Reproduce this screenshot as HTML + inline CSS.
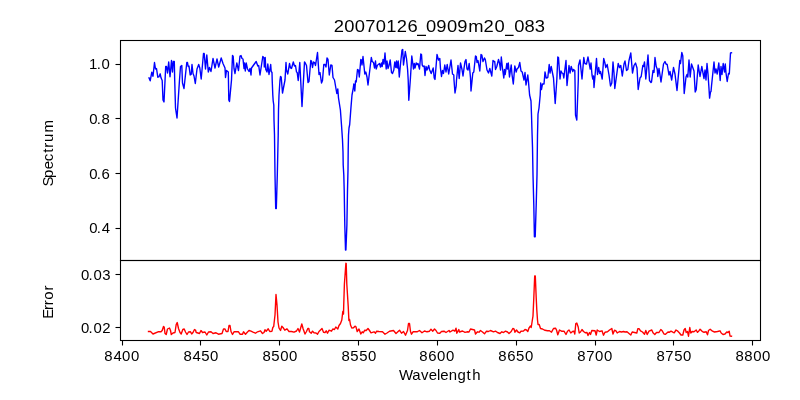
<!DOCTYPE html>
<html><head><meta charset="utf-8"><title>20070126_0909m20_083</title>
<style>html,body{margin:0;padding:0;background:#fff;}body{width:800px;height:400px;overflow:hidden;}svg{display:block;will-change:transform;}text{font-family:"Liberation Sans",sans-serif;fill:#000;}</style></head><body>
<svg width="800" height="400" viewBox="0 0 800 400">
<rect x="0" y="0" width="800" height="400" fill="#ffffff"/>
<path d="M149.0 77.8 L150.2 80.8 L151.8 72.2 L153.0 76.2 L154.5 62.5 L155.5 69.0 L156.5 68.5 L157.8 77.2 L159.0 76.8 L160.2 73.8 L161.0 77.8 L162.2 80.5 L163.0 100.0 L164.0 102.0 L165.7 66.5 L166.5 66.5 L167.5 73.0 L168.7 62.0 L170.0 76.8 L171.5 60.5 L172.5 72.0 L173.3 61.5 L174.3 61.5 L174.7 80.0 L175.5 108.0 L177.0 118.0 L179.5 80.0 L180.5 66.5 L181.8 65.5 L182.5 83.0 L184.0 88.5 L186.8 62.5 L187.5 62.5 L188.2 66.5 L189.0 66.0 L190.2 75.0 L191.2 74.5 L192.0 64.5 L193.0 73.5 L194.0 76.0 L195.3 83.5 L197.0 69.0 L198.7 64.5 L199.8 68.0 L201.2 79.0 L203.5 53.5 L204.2 53.5 L205.5 69.0 L206.8 55.0 L208.3 72.0 L209.5 67.5 L211.0 71.5 L213.0 58.5 L215.0 68.0 L217.0 59.0 L218.7 67.0 L221.2 58.0 L223.0 63.5 L225.0 68.0 L225.5 77.5 L226.5 70.5 L228.3 72.0 L228.8 100.0 L229.5 101.5 L231.5 80.0 L232.5 55.5 L233.2 56.5 L234.0 68.5 L235.0 73.5 L236.8 63.0 L238.5 70.5 L240.0 56.0 L241.0 55.5 L242.0 58.5 L243.0 59.0 L244.0 68.5 L244.5 63.0 L245.3 71.0 L246.2 63.0 L247.5 69.0 L249.0 71.5 L250.0 68.5 L251.0 75.0 L251.5 68.0 L254.0 64.5 L256.2 61.5 L257.8 66.0 L258.7 65.5 L260.0 75.0 L262.8 56.5 L264.0 58.0 L264.3 67.0 L265.2 57.5 L265.8 69.5 L267.0 72.0 L267.8 64.0 L269.0 74.5 L270.7 64.5 L271.2 71.5 L272.0 72.5 L272.2 80.0 L272.8 95.0 L273.2 101.0 L273.8 105.0 L274.0 120.0 L274.5 135.0 L275.0 175.0 L275.7 208.5 L276.3 208.5 L277.3 175.0 L278.2 135.0 L278.5 110.0 L279.0 95.0 L280.0 80.0 L280.5 76.5 L281.2 77.0 L282.5 93.0 L285.0 80.0 L286.0 62.5 L286.5 70.0 L287.8 74.0 L289.5 63.5 L290.5 68.0 L291.5 68.5 L293.3 62.0 L294.5 66.0 L295.5 65.5 L296.5 72.0 L297.2 72.5 L298.2 80.5 L299.8 62.5 L302.0 106.5 L304.5 62.0 L305.0 62.5 L306.5 65.5 L308.0 82.5 L309.0 81.5 L310.8 60.5 L311.5 61.0 L312.5 67.5 L313.5 62.0 L314.5 62.5 L315.5 65.5 L317.5 52.5 L319.0 74.5 L320.0 72.5 L321.5 83.0 L322.5 80.5 L323.8 64.5 L325.0 64.5 L326.0 67.0 L327.0 58.0 L328.0 59.5 L329.3 75.0 L330.8 65.0 L332.0 65.5 L333.0 77.5 L334.5 80.0 L336.8 93.5 L337.8 89.0 L338.5 98.0 L340.4 110.0 L341.5 125.0 L342.5 140.0 L343.0 152.0 L343.2 165.0 L343.8 175.0 L344.2 190.0 L344.8 225.0 L345.5 250.0 L345.9 250.0 L346.9 225.0 L347.5 190.0 L348.0 170.0 L348.2 150.0 L348.5 135.0 L349.0 128.0 L349.7 124.5 L351.0 107.0 L352.0 95.0 L353.5 87.0 L353.8 84.0 L354.8 91.0 L355.5 81.0 L356.2 82.0 L357.5 69.5 L358.5 70.0 L359.3 77.0 L360.8 59.5 L361.5 60.0 L362.0 65.0 L363.0 56.5 L364.8 74.0 L365.8 72.0 L367.0 77.0 L368.0 85.0 L371.3 57.5 L372.2 61.5 L373.5 62.5 L374.5 68.0 L375.5 61.0 L376.2 69.0 L377.5 65.0 L378.5 64.5 L379.5 63.5 L380.5 67.0 L381.5 63.0 L382.2 66.5 L383.0 59.5 L384.0 64.0 L385.0 53.0 L386.2 69.0 L387.0 61.0 L388.0 68.5 L389.0 65.5 L390.2 60.0 L391.5 72.5 L392.5 73.5 L393.8 70.0 L394.8 62.0 L395.8 67.5 L396.5 61.0 L397.3 68.0 L398.2 61.0 L399.3 77.0 L400.5 64.0 L402.0 50.0 L402.7 49.5 L403.5 65.0 L405.3 51.5 L406.5 58.5 L407.6 69.5 L408.2 80.0 L408.8 100.3 L410.3 80.0 L411.8 56.0 L413.5 69.0 L414.3 63.5 L415.0 68.0 L416.2 63.0 L417.2 64.5 L418.0 63.5 L419.5 69.0 L420.8 54.0 L421.5 54.5 L422.2 65.0 L423.2 66.5 L424.2 66.0 L425.0 75.5 L426.0 66.5 L427.0 70.0 L428.7 65.5 L429.5 69.5 L431.2 73.5 L433.2 68.0 L434.2 78.0 L435.0 79.5 L437.0 54.5 L438.5 60.0 L439.8 58.5 L440.5 68.5 L441.5 76.5 L442.5 70.5 L443.5 73.5 L444.8 65.0 L446.0 72.0 L447.2 64.5 L448.7 74.0 L451.0 60.0 L452.5 74.0 L453.8 75.0 L454.0 80.0 L455.0 93.0 L456.2 86.0 L456.5 80.0 L458.0 65.5 L459.2 78.5 L460.5 63.0 L462.0 69.5 L463.0 76.0 L464.0 68.5 L465.0 61.5 L466.0 59.5 L467.0 69.0 L468.0 70.0 L469.2 63.5 L470.5 78.0 L471.0 91.0 L472.8 73.0 L473.8 72.0 L475.5 56.0 L476.3 56.5 L477.0 62.5 L478.0 60.5 L479.8 71.0 L481.0 54.5 L481.8 55.0 L483.0 61.5 L484.5 58.0 L485.3 59.5 L487.0 70.0 L488.5 73.0 L489.8 68.5 L491.8 76.0 L493.0 60.5 L494.0 61.5 L494.7 61.5 L495.5 69.5 L496.8 66.5 L498.5 59.5 L499.5 63.0 L500.5 70.0 L501.3 57.0 L502.5 68.5 L503.8 78.0 L504.5 69.5 L505.2 74.5 L506.8 63.5 L507.5 69.0 L508.3 63.0 L509.5 77.0 L511.2 65.0 L512.0 74.5 L513.3 84.0 L514.8 66.0 L516.2 72.0 L517.0 69.0 L518.5 67.5 L519.8 62.5 L521.0 71.0 L522.2 72.0 L524.0 80.0 L525.0 72.5 L526.0 85.0 L527.8 75.0 L528.5 82.0 L529.6 95.0 L531.0 101.0 L531.5 115.0 L532.1 135.0 L532.5 147.0 L533.0 175.0 L533.8 205.0 L534.4 236.8 L535.2 236.8 L536.2 205.0 L537.0 175.0 L537.5 135.0 L538.0 114.0 L539.0 108.0 L540.2 95.0 L540.7 83.0 L541.5 89.5 L542.5 84.0 L544.0 84.0 L545.0 72.0 L546.2 78.0 L547.8 77.5 L549.2 64.5 L550.0 73.0 L551.2 66.5 L553.5 78.0 L555.2 103.5 L556.8 80.0 L557.8 57.0 L558.5 57.5 L560.0 79.0 L561.0 71.0 L562.0 73.0 L563.0 73.5 L563.8 78.0 L566.0 60.5 L567.0 85.5 L569.0 65.5 L570.0 73.0 L571.2 66.5 L572.8 71.5 L573.5 69.5 L574.8 70.5 L575.0 80.0 L575.5 115.0 L576.8 120.0 L578.3 80.0 L578.5 65.5 L580.0 60.0 L582.0 79.0 L583.8 57.5 L584.8 63.5 L586.5 64.0 L588.0 57.0 L589.0 62.5 L590.2 69.0 L591.0 63.0 L592.0 75.0 L592.8 79.0 L593.5 76.0 L594.0 87.5 L596.5 58.5 L597.5 74.5 L598.7 67.5 L599.7 73.5 L600.5 71.5 L602.2 79.0 L603.7 58.5 L604.8 62.5 L605.8 67.5 L607.2 64.5 L609.0 75.0 L610.5 86.0 L611.8 83.0 L613.0 62.0 L614.0 73.0 L614.8 88.5 L618.2 63.5 L619.5 67.5 L620.8 65.5 L622.3 76.0 L624.0 64.0 L625.0 61.0 L626.5 70.5 L627.8 69.5 L629.0 60.5 L630.8 53.0 L632.5 73.0 L634.0 65.5 L635.5 63.0 L637.0 68.0 L638.2 89.5 L640.0 78.0 L641.2 76.5 L642.8 65.5 L643.5 66.5 L644.5 62.0 L645.8 79.0 L648.0 55.0 L649.5 80.5 L651.0 82.5 L651.5 82.0 L653.0 70.5 L654.0 72.5 L655.0 57.5 L656.2 66.5 L657.2 69.0 L657.8 76.5 L659.0 68.5 L660.0 75.0 L661.0 82.0 L663.5 64.0 L665.0 61.5 L666.0 64.0 L667.2 64.5 L669.0 75.0 L670.0 71.5 L671.7 80.0 L673.5 67.5 L675.0 74.0 L677.0 90.5 L679.8 60.5 L680.5 63.5 L681.8 52.5 L682.8 56.0 L684.2 93.5 L686.0 77.0 L687.0 74.5 L687.8 77.0 L689.0 60.0 L690.2 77.0 L691.5 64.0 L694.0 71.0 L695.2 92.0 L696.2 89.8 L698.2 65.0 L700.0 76.5 L701.8 66.5 L704.0 78.5 L705.0 70.0 L706.0 80.0 L707.0 63.5 L708.0 74.0 L709.0 88.8 L709.6 98.1 L710.5 92.0 L711.0 91.5 L711.5 86.0 L714.0 62.0 L715.0 73.0 L716.0 69.0 L717.2 74.0 L718.8 63.0 L720.2 80.5 L721.0 66.5 L722.0 74.5 L723.2 63.5 L724.5 72.0 L725.3 64.0 L726.0 73.0 L727.2 81.5 L728.5 73.5 L729.3 74.0 L730.5 53.0 L731.5 52.8" fill="none" stroke="#0000ff" stroke-width="1.39" stroke-linejoin="round" stroke-linecap="square"/>
<path d="M148.5 331.5 L150.5 331.5 L153.0 334.0 L158.0 331.8 L161.0 331.8 L162.2 330.5 L163.5 326.5 L164.2 327.0 L165.0 333.5 L166.2 334.5 L167.5 329.0 L169.5 328.0 L170.5 330.5 L171.3 334.5 L173.0 333.0 L175.0 332.5 L176.2 324.5 L177.2 322.5 L178.5 328.5 L180.0 332.5 L181.2 334.0 L182.8 329.5 L184.2 329.0 L185.5 332.0 L187.0 334.5 L188.5 332.0 L190.5 331.8 L191.7 334.0 L193.0 332.5 L194.5 329.5 L195.5 330.0 L196.2 332.5 L198.0 333.0 L199.5 333.5 L201.0 330.5 L202.5 332.5 L205.0 332.0 L206.8 335.0 L208.5 332.0 L211.0 331.8 L213.0 333.5 L216.0 332.8 L218.5 334.2 L222.0 333.5 L223.5 329.0 L225.0 329.0 L226.2 331.5 L228.0 331.5 L229.0 325.5 L230.0 325.5 L231.0 331.5 L232.5 334.5 L234.0 331.8 L238.5 331.8 L240.0 334.2 L242.5 334.2 L243.5 331.8 L245.5 334.2 L247.5 332.0 L249.0 330.5 L251.0 331.2 L253.0 332.2 L255.5 333.2 L257.5 331.8 L260.5 330.8 L262.5 333.5 L264.0 332.5 L265.0 329.8 L266.2 331.2 L268.2 328.8 L269.8 331.5 L272.0 331.2 L272.8 327.5 L273.7 326.5 L275.0 315.0 L276.0 294.5 L277.0 305.0 L278.0 322.0 L279.0 328.0 L280.5 330.5 L281.8 326.2 L283.0 327.5 L284.8 330.2 L287.0 328.8 L289.0 331.5 L291.5 331.5 L294.0 332.2 L296.5 331.0 L298.0 328.5 L299.5 332.0 L301.8 324.0 L303.2 329.0 L305.0 334.0 L306.5 331.5 L307.8 328.5 L308.8 328.5 L309.5 331.8 L311.2 333.2 L312.5 331.2 L314.0 332.8 L316.0 333.0 L317.5 334.2 L319.0 331.5 L320.5 330.0 L322.0 328.5 L323.5 332.2 L325.0 332.5 L326.2 330.8 L327.5 333.2 L329.0 330.2 L331.5 331.2 L332.8 329.0 L334.5 329.5 L335.8 327.0 L337.8 329.0 L339.0 325.5 L340.5 323.5 L341.8 320.0 L342.8 311.5 L343.5 314.0 L343.7 306.0 L344.4 284.0 L345.9 263.3 L346.2 263.4 L346.8 284.0 L348.2 306.0 L348.9 320.5 L349.6 319.5 L350.5 325.0 L351.8 328.0 L353.5 327.8 L355.0 326.2 L356.0 326.8 L357.2 331.5 L359.0 329.0 L360.8 334.0 L362.2 331.8 L363.2 332.8 L364.8 330.2 L366.2 330.5 L368.0 328.5 L369.5 330.5 L371.0 332.8 L374.0 331.8 L375.5 333.2 L376.5 331.2 L379.0 331.5 L382.5 331.8 L385.0 334.2 L387.0 333.0 L389.5 331.2 L393.5 330.5 L396.0 333.5 L399.5 330.2 L401.5 333.2 L403.5 331.5 L405.5 335.2 L407.5 330.5 L408.5 323.5 L409.5 323.5 L410.5 331.5 L411.5 334.2 L413.0 331.8 L417.0 331.8 L419.5 330.5 L422.0 332.8 L424.5 331.0 L427.0 331.8 L429.5 331.2 L431.0 329.2 L432.8 331.2 L434.5 329.0 L436.0 330.5 L437.5 333.0 L439.8 333.2 L441.5 331.5 L444.0 331.2 L446.0 332.5 L449.0 330.5 L450.0 332.0 L453.0 330.2 L454.8 331.2 L456.0 328.2 L456.8 333.2 L458.8 329.5 L459.5 332.0 L462.5 331.0 L465.0 332.3 L467.0 331.8 L469.0 332.0 L470.5 329.0 L472.5 329.5 L474.5 330.0 L475.5 334.0 L477.5 331.8 L479.0 332.2 L480.5 330.5 L482.5 332.0 L484.5 333.8 L486.5 331.2 L488.5 331.5 L490.5 330.5 L493.5 331.8 L495.5 331.2 L497.5 332.5 L500.0 333.5 L501.8 331.8 L503.5 332.5 L505.5 331.2 L507.5 332.0 L509.0 333.5 L511.2 331.5 L512.8 328.5 L514.0 329.0 L515.0 332.2 L516.5 330.0 L518.0 332.0 L519.8 332.8 L521.0 331.2 L523.5 331.0 L525.0 329.5 L526.5 330.0 L527.8 331.5 L529.0 328.0 L530.5 326.0 L531.2 327.5 L532.2 321.0 L533.0 316.0 L533.8 298.0 L534.7 276.0 L535.3 276.0 L536.2 297.5 L536.8 310.0 L537.5 320.0 L538.0 324.5 L539.2 324.5 L540.5 328.5 L542.5 329.0 L545.0 330.3 L547.5 330.8 L549.5 330.8 L551.5 332.2 L553.5 328.5 L555.5 328.2 L556.5 330.0 L557.8 334.8 L559.5 330.0 L561.5 331.2 L564.0 331.2 L566.0 334.5 L567.5 331.2 L569.0 330.0 L570.8 333.0 L572.5 331.5 L574.0 331.2 L574.8 334.0 L575.8 323.5 L576.8 323.0 L578.2 327.0 L579.2 333.0 L580.5 332.0 L582.0 329.5 L583.5 331.5 L585.5 332.8 L587.0 332.5 L588.0 335.5 L589.5 332.5 L590.5 334.5 L591.8 330.5 L595.0 330.8 L596.2 335.0 L597.2 330.0 L599.5 331.5 L602.0 330.8 L603.5 335.2 L605.0 332.2 L607.5 331.8 L609.5 330.0 L611.8 328.5 L613.0 334.0 L614.5 330.2 L616.2 331.2 L617.2 333.0 L619.5 331.5 L621.5 332.0 L623.5 331.5 L625.0 332.0 L627.0 331.8 L629.0 333.5 L630.8 335.0 L632.2 332.0 L634.5 332.5 L636.8 333.0 L637.8 328.8 L639.2 328.8 L640.5 330.8 L642.5 332.0 L644.5 334.2 L645.8 330.5 L647.2 334.5 L649.0 331.2 L651.8 330.0 L653.0 332.8 L654.8 334.5 L656.5 332.5 L659.0 332.5 L660.8 329.5 L662.2 330.8 L664.0 334.0 L665.5 334.2 L668.0 332.0 L669.5 332.2 L671.0 331.2 L672.8 332.2 L674.2 332.8 L676.0 330.0 L677.8 331.2 L679.5 333.0 L681.0 335.0 L682.8 335.0 L684.0 330.0 L685.2 328.5 L686.2 332.5 L687.5 331.5 L688.5 336.2 L689.8 327.5 L690.8 333.0 L692.2 331.5 L694.0 331.8 L696.2 330.0 L697.5 332.3 L698.7 331.2 L700.1 329.2 L702.1 331.3 L704.0 332.3 L706.2 331.8 L707.5 334.8 L708.5 330.5 L710.2 329.2 L712.5 331.2 L714.5 332.0 L717.5 331.5 L720.0 330.8 L721.2 333.0 L723.0 334.5 L725.0 334.0 L726.8 332.0 L728.0 332.5 L729.2 331.2 L730.0 336.0 L731.5 336.2" fill="none" stroke="#ff0000" stroke-width="1.39" stroke-linejoin="round" stroke-linecap="square"/>
<g stroke="#000" stroke-width="1.1" fill="none" stroke-linecap="square">
<rect x="120.5" y="40.5" width="640.0" height="220.0"/>
<rect x="120.5" y="260.5" width="640.0" height="80.0"/>
</g>
<g stroke="#000" stroke-width="1.1" stroke-linecap="butt">
<line x1="122.5" y1="340.5" x2="122.5" y2="345.5"/>
<line x1="200.5" y1="340.5" x2="200.5" y2="345.5"/>
<line x1="279.5" y1="340.5" x2="279.5" y2="345.5"/>
<line x1="358.5" y1="340.5" x2="358.5" y2="345.5"/>
<line x1="437.5" y1="340.5" x2="437.5" y2="345.5"/>
<line x1="516.5" y1="340.5" x2="516.5" y2="345.5"/>
<line x1="595.5" y1="340.5" x2="595.5" y2="345.5"/>
<line x1="673.5" y1="340.5" x2="673.5" y2="345.5"/>
<line x1="752.5" y1="340.5" x2="752.5" y2="345.5"/>
<line x1="115.5" y1="64.5" x2="120.5" y2="64.5"/>
<line x1="115.5" y1="118.5" x2="120.5" y2="118.5"/>
<line x1="115.5" y1="173.5" x2="120.5" y2="173.5"/>
<line x1="115.5" y1="228.5" x2="120.5" y2="228.5"/>
<line x1="115.5" y1="274.5" x2="120.5" y2="274.5"/>
<line x1="115.5" y1="327.5" x2="120.5" y2="327.5"/>
</g>
<text transform="scale(1.0600 1)" x="98.40 106.97 115.17 123.56" y="361.00" font-size="14.10">8400</text>
<text transform="scale(1.0600 1)" x="173.02 181.59 189.77 198.18" y="361.00" font-size="14.10">8450</text>
<text transform="scale(1.0600 1)" x="247.55 255.90 264.32 272.71" y="361.00" font-size="14.10">8500</text>
<text transform="scale(1.0600 1)" x="322.08 330.43 338.83 347.24" y="361.00" font-size="14.10">8550</text>
<text transform="scale(1.0600 1)" x="395.57 403.94 412.33 420.73" y="361.00" font-size="14.10">8600</text>
<text transform="scale(1.0600 1)" x="470.10 478.47 486.84 495.26" y="361.00" font-size="14.10">8650</text>
<text transform="scale(1.0600 1)" x="544.63 553.08 561.39 569.79" y="361.00" font-size="14.10">8700</text>
<text transform="scale(1.0600 1)" x="619.25 627.71 636.00 644.41" y="361.00" font-size="14.10">8750</text>
<text transform="scale(1.0600 1)" x="693.78 702.17 710.54 718.94" y="361.00" font-size="14.10">8800</text>
<text transform="scale(1.0600 1)" x="83.93 91.38 95.73" y="69.00" font-size="14.10">1.0</text>
<text transform="scale(1.0600 1)" x="84.22 91.38 95.76" y="124.00" font-size="14.10">0.8</text>
<text transform="scale(1.0600 1)" x="84.22 91.38 95.74" y="179.00" font-size="14.10">0.6</text>
<text transform="scale(1.0600 1)" x="84.22 91.38 95.93" y="233.00" font-size="14.10">0.4</text>
<text transform="scale(1.0600 1)" x="76.49 83.60 88.18 96.44" y="280.00" font-size="14.10">0.03</text>
<text transform="scale(1.0600 1)" x="76.49 83.60 88.18 96.44" y="333.00" font-size="14.10">0.02</text>
<text transform="scale(1.0800 1)" x="309.04 318.69 328.41 338.12 347.86 357.69 367.37 377.35 394.38 403.98 413.83 423.43 433.69 447.69 457.81 476.10 485.62 495.11" y="32.00" font-size="17.00">200701260909m20083</text>
<rect x="417" y="34.75" width="9" height="1.25" fill="#000"/><rect x="505" y="34.75" width="8.6" height="1.25" fill="#000"/>
<text transform="scale(1.0600 1)" x="376.48 388.97 397.29 404.48 412.21 415.33 423.45 431.55 440.07 445.53" y="379.80" font-size="14.10">Wavelength</text>
<text transform="translate(53.0 0) rotate(-90) scale(1.0600 1)" x="-175.88 -167.89 -159.72 -152.14 -144.23 -139.51 -133.85 -124.98" y="0.00" font-size="14.10">Spectrum</text>
<text transform="translate(53.0 0) rotate(-90) scale(1.0600 1)" x="-300.77 -292.34 -288.09 -282.90 -274.18" y="0.00" font-size="14.10">Error</text>
</svg></body></html>
